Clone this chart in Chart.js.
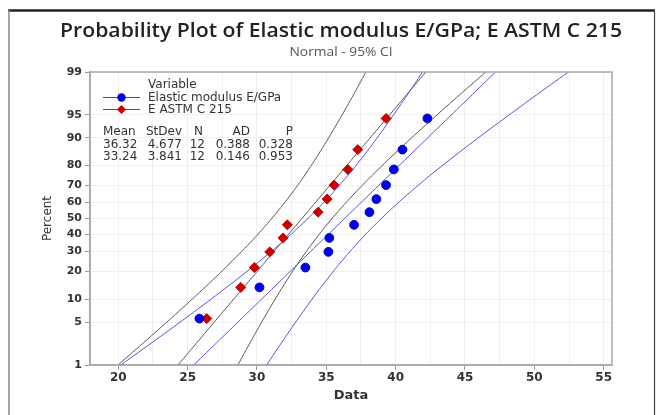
<!DOCTYPE html>
<html>
<head>
<meta charset="utf-8">
<script src="https://cdn.jsdelivr.net/npm/chart.js@4.4.1/dist/chart.umd.min.js"></script>
<style>
html,body{margin:0;padding:0;background:#fff;}
#wrap{width:660px;height:415px;position:relative;}
</style>
</head>
<body>
<div id="wrap"><canvas id="c" width="660" height="415"></canvas></div>
<script>
// ---- data ----
const chartTitle = 'Probability Plot of Elastic modulus E/GPa; E ASTM C 215';
const chartSubtitle = 'Normal - 95% CI';
const seriesNames = ['Elastic modulus E/GPa', 'E ASTM C 215'];
const plotPercent = [5.6, 13.7, 21.8, 29.8, 37.9, 46.0, 54.0, 62.1, 70.2, 78.2, 86.3, 94.4];
const elasticX = [25.85, 30.18, 33.49, 35.15, 35.22, 37.0, 38.11, 38.61, 39.31, 39.87, 40.49, 42.29];
const astmX = [26.38, 28.83, 29.81, 30.92, 31.88, 32.19, 34.41, 35.06, 35.56, 36.55, 37.27, 39.31];
const means = [36.32, 33.24];
const stdevs = [4.677, 3.841];
const counts = [12, 12];
const adValues = [0.388, 0.146];
const pValues = [0.328, 0.953];
const yTickPercents = [1, 5, 10, 20, 30, 40, 50, 60, 70, 80, 90, 95, 99];
const xTickValues = [20, 25, 30, 35, 40, 45, 50, 55];

// inverse standard normal CDF (Acklam)
function probit(p) {
  const a = [-3.969683028665376e+01, 2.209460984245205e+02, -2.759285104469687e+02, 1.383577518672690e+02, -3.066479806614716e+01, 2.506628277459239e+00];
  const b = [-5.447609879822406e+01, 1.615858368580409e+02, -1.556989798598866e+02, 6.680131188771972e+01, -1.328068155288572e+01];
  const c = [-7.784894002430293e-03, -3.223964580411365e-01, -2.400758277161838e+00, -2.549732539343734e+00, 4.374664141464968e+00, 2.938163982698783e+00];
  const d = [7.784695709041462e-03, 3.224671290700398e-01, 2.445134137142996e+00, 3.754408661907416e+00];
  const pl = 0.02425, ph = 1 - pl;
  let q, r;
  if (p < pl) { q = Math.sqrt(-2 * Math.log(p)); return (((((c[0]*q+c[1])*q+c[2])*q+c[3])*q+c[4])*q+c[5]) / ((((d[0]*q+d[1])*q+d[2])*q+d[3])*q+1); }
  if (p <= ph) { q = p - 0.5; r = q*q; return (((((a[0]*r+a[1])*r+a[2])*r+a[3])*r+a[4])*r+a[5])*q / (((((b[0]*r+b[1])*r+b[2])*r+b[3])*r+b[4])*r+1); }
  q = Math.sqrt(-2 * Math.log(1 - p)); return -(((((c[0]*q+c[1])*q+c[2])*q+c[3])*q+c[4])*q+c[5]) / ((((d[0]*q+d[1])*q+d[2])*q+d[3])*q+1);
}
const zMin = probit(0.01), zMax = probit(0.99);

function pts(xs) { return xs.map((x, i) => ({ x: x, y: probit(plotPercent[i] / 100) })); }

// fitted normal line and 95% CI from the stated Mean / StDev / N
function fitLines(k) {
  const m = means[k], s = stdevs[k], n = counts[k];
  const fit = [], lo = [], hi = [];
  for (let z = zMin - 0.1; z <= zMax + 0.1001; z += 0.05) {
    const xp = m + z * s;
    const h = 1.96 * s * Math.sqrt(1 / n + z * z / (2 * (n - 1)));
    fit.push({ x: xp, y: z }); lo.push({ x: xp - h, y: z }); hi.push({ x: xp + h, y: z });
  }
  return { fit, lo, hi };
}
const fE = fitLines(0), fA = fitLines(1);
const blueLine = 'rgb(85,85,225)', grayLine = 'rgb(90,90,90)';
function lineDs(data, color) {
  return { type: 'line', data, borderColor: color, borderWidth: 1, pointRadius: 0, fill: false, tension: 0, order: 2 };
}

const FONT = '"DejaVu Sans", "Open Sans", sans-serif';

function fitText(ctx, text, cx, cy, width) {
  const w = ctx.measureText(text).width;
  ctx.save();
  ctx.translate(cx, cy);
  ctx.scale(width / w, 1);
  ctx.textAlign = 'center';
  ctx.fillText(text, 0, 0);
  ctx.restore();
}

const framePlugin = {
  id: 'frame',
  beforeDraw(chart) {
    const ctx = chart.ctx;
    ctx.save();
    ctx.fillStyle = '#fff'; ctx.fillRect(0, 0, chart.width, chart.height);
    ctx.restore();
  },
  afterDraw(chart) {
    const ctx = chart.ctx, a = chart.chartArea;
    ctx.save();
    // plot frame
    ctx.strokeStyle = '#a8a8a8'; ctx.lineWidth = 1.5;
    ctx.strokeRect(a.left, a.top, a.right - a.left, a.bottom - a.top);
    // outer picture border
    ctx.strokeStyle = '#222'; ctx.lineWidth = 2.5;
    ctx.beginPath(); ctx.moveTo(8, 10.5); ctx.lineTo(655, 10.5); ctx.stroke();
    ctx.strokeStyle = '#8a8a8a'; ctx.lineWidth = 1.5;
    ctx.beginPath(); ctx.moveTo(9, 10); ctx.lineTo(9, 415); ctx.stroke();
    ctx.strokeStyle = '#444'; ctx.lineWidth = 1.2;
    ctx.beginPath(); ctx.moveTo(654.5, 10); ctx.lineTo(654.5, 415); ctx.stroke();

    // title + subtitle
    ctx.textBaseline = 'middle';
    ctx.fillStyle = '#222';
    ctx.font = '600 19px "Open Sans", sans-serif';
    fitText(ctx, chartTitle, 341, 32, 562);
    ctx.fillStyle = '#555';
    ctx.font = '400 13px "Open Sans", sans-serif';
    fitText(ctx, chartSubtitle, 341, 52, 103);

    // legend
    ctx.fillStyle = '#333';
    ctx.font = '12px ' + FONT;
    ctx.textAlign = 'left';
    ctx.fillText('Variable', 148, 85);
    const ly = [97.5, 109.5];
    ctx.strokeStyle = 'rgb(60,60,230)'; ctx.lineWidth = 1;
    ctx.beginPath(); ctx.moveTo(103, ly[0]); ctx.lineTo(140, ly[0]); ctx.stroke();
    ctx.fillStyle = 'rgb(0,0,225)';
    ctx.beginPath(); ctx.arc(121.5, ly[0], 4.2, 0, Math.PI * 2); ctx.fill();
    ctx.strokeStyle = '#555';
    ctx.beginPath(); ctx.moveTo(103, ly[1]); ctx.lineTo(140, ly[1]); ctx.stroke();
    ctx.fillStyle = 'rgb(200,0,0)';
    ctx.beginPath(); ctx.moveTo(121.5, ly[1] - 4.5); ctx.lineTo(126, ly[1]); ctx.lineTo(121.5, ly[1] + 4.5); ctx.lineTo(117, ly[1]); ctx.closePath(); ctx.fill();
    ctx.fillStyle = '#333';
    ctx.fillText(seriesNames[0], 148, ly[0]);
    ctx.fillText(seriesNames[1], 148, ly[1]);
    // statistics table
    const hy = 131.5, rows = [144.5, 156.5];
    ctx.textAlign = 'left';
    ctx.fillText('Mean', 103, hy);
    ctx.textAlign = 'right';
    ctx.fillText('StDev', 182, hy);
    ctx.fillText('N', 203, hy);
    ctx.fillText('AD', 250, hy);
    ctx.fillText('P', 293, hy);
    for (let k = 0; k < 2; k++) {
      ctx.textAlign = 'left';
      ctx.fillText(means[k].toFixed(2), 103, rows[k]);
      ctx.textAlign = 'right';
      ctx.fillText(stdevs[k].toFixed(3), 182, rows[k]);
      ctx.fillText(String(counts[k]), 205, rows[k]);
      ctx.fillText(adValues[k].toFixed(3), 250, rows[k]);
      ctx.fillText(pValues[k].toFixed(3), 293, rows[k]);
    }
    ctx.restore();
  }
};

new Chart(document.getElementById('c'), {
  type: 'scatter',
  data: {
    datasets: [
      { label: seriesNames[0], data: pts(elasticX), backgroundColor: 'rgb(0,0,225)', borderColor: 'rgb(0,0,225)', pointStyle: 'circle', pointRadius: 4.4, order: 0 },
      { label: seriesNames[1], data: pts(astmX), backgroundColor: 'rgb(200,0,0)', borderColor: 'rgb(200,0,0)', pointStyle: 'rectRot', pointRadius: 5, order: 0 },
      lineDs(fE.fit, blueLine), lineDs(fE.lo, blueLine), lineDs(fE.hi, blueLine),
      lineDs(fA.fit, grayLine), lineDs(fA.lo, grayLine), lineDs(fA.hi, grayLine)
    ]
  },
  options: {
    responsive: false,
    animation: false,
    devicePixelRatio: 1,
    layout: { padding: { left: 41, right: 48, top: 72, bottom: 8 } },
    plugins: {
      legend: { display: false },
      tooltip: { enabled: false },
      title: { display: false },
      subtitle: { display: false }
    },
    scales: {
      x: {
        type: 'linear', min: 17.96, max: 55.6,
        afterBuildTicks(scale) {
          const t = [];
          for (let v = 20; v <= 55.01; v += 2.5) t.push({ value: v });
          scale.ticks = t;
        },
        afterFit(scale) { scale.height = 42; },
        ticks: {
          color: '#333', font: { family: FONT, size: 12, weight: 'bold' }, padding: 1, maxRotation: 0, autoSkip: false,
          callback: (v) => (xTickValues.includes(v) ? String(v) : '')
        },
        grid: {
          color: '#f0f0f0', lineWidth: 1, drawTicks: true, tickLength: 5,
          tickColor: (c) => (c.tick && xTickValues.includes(c.tick.value) ? '#999' : 'rgba(0,0,0,0)')
        },
        border: { display: true, color: '#a8a8a8', width: 1.5 },
        title: { display: true, text: 'Data', color: '#333', font: { family: FONT, size: 13, weight: 'bold' }, padding: { top: 0, bottom: 4 } }
      },
      y: {
        type: 'linear', min: zMin, max: zMax,
        afterBuildTicks(scale) { scale.ticks = yTickPercents.map(p => ({ value: probit(p / 100) })); },
        afterFit(scale) { scale.width = 49; },
        ticks: {
          color: '#333', font: { family: FONT, size: 11, weight: 'bold' }, padding: 3, autoSkip: false,
          callback: function (v, i) { return String(yTickPercents[i]); }
        },
        grid: { color: '#f0f0f0', lineWidth: 1, tickLength: 5, tickColor: '#999' },
        border: { display: true, color: '#a8a8a8', width: 1.5 },
        title: { display: true, text: 'Percent', color: '#333', font: { family: FONT, size: 12, weight: 'normal' }, padding: { top: 0, bottom: 0 } }
      }
    }
  },
  plugins: [framePlugin]
});
</script>
</body>
</html>
